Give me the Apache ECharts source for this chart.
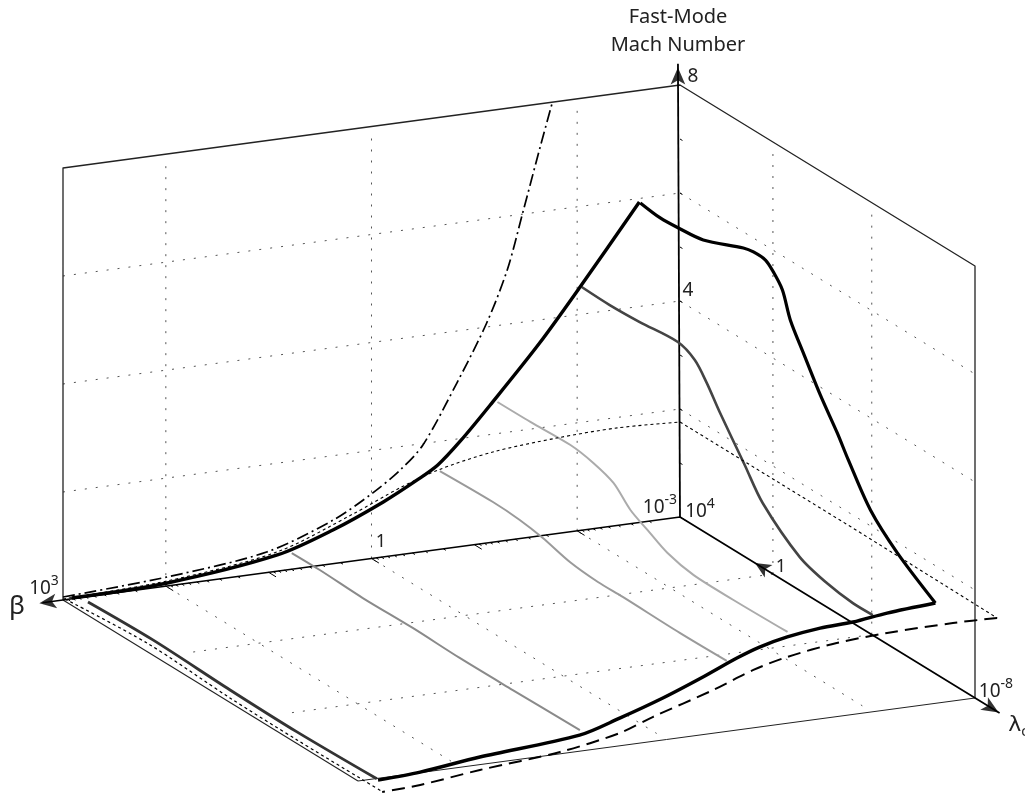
<!DOCTYPE html>
<html><head><meta charset="utf-8">
<style>html,body{margin:0;padding:0;background:#fff}#c{width:1025px;height:793px}</style>
<script src="https://cdn.jsdelivr.net/npm/echarts@6/dist/echarts.min.js"></script>
</head><body><div id="c"></div>
<script>
// Axis labels and grid decades (log10 beta, log10 lambda_c, Mach)
const betaDecades = [2, 0, -2];
const lambdaGrid = [0.22, -3.8];
const machGrid = [2, 4, 6];
const machTicks = [1, 2, 3, 4, 5, 6, 7];
const tickDecades = [-3, -2, -1, 0, 1, 2];

// Ridge at large lambda_c: Mach versus log10 beta
const ridgeLambda = 3.52;
const ridgeBeta = [3.03, 2.10, 1.03, 0.49, 0.00, -0.33, -0.53, -0.75, -1.04, -1.52, -1.92, -2.49];
const ridgeMach = [0.178, 0.219, 0.463, 0.787, 1.181, 1.504, 1.73, 2.119, 2.711, 3.735, 4.688, 6.099];

// Back-wall limit curves at lambda_c = 10^4
const wallLambda = 4;
const upperBeta = [3, 1.99, 1.02, 0.37, -0.01, -0.28, -0.50, -0.83, -1.12, -1.32, -1.47, -1.64, -1.76];
const upperMach = [0.056, 0.167, 0.381, 0.809, 1.209, 1.569, 1.974, 3.037, 4.074, 5.006, 6.02, 7.2, 8.004];
const lowerBeta = [3, 1.99, 0.92, 0.18, -0.28, -0.65, -1.18, -1.80, -2.39, -3];
const lowerMach = [0.02, 0.093, 0.356, 0.87, 1.24, 1.474, 1.670, 1.769, 1.806, 1.759];

// Plateau along beta = 10^-3
const plateauBeta = -3;
const plateauLambda = [4, -3, -8.9];
const plateauMach = [1.76, 1.76, 1.733];

// Small-lambda edges: Mach versus log10 beta
const dashedLambda = -8.9;
const dashedBeta = [-3, -2.57, -1.93, -1.44, -0.96, -0.63, -0.24, 0.35, 0.67, 1.25, 2.03, 2.61, 2.98];
const dashedMach = [1.733, 1.75, 1.73, 1.669, 1.535, 1.378, 1.107, 0.757, 0.543, 0.341, 0.207, 0.078, 0.043];
const edgeLambda = -8.48;
const edgeBeta = [-2.50, -2.03, -1.70, -1.38, -1.06, -0.79, -0.57, -0.24, 0.15, 0.57, 0.96, 1.93, 2.51, 2.92];
const edgeMach = [2.022, 1.956, 1.874, 1.844, 1.761, 1.643, 1.496, 1.23, 0.941, 0.676, 0.461, 0.304, 0.174, 0.131];

// Constant-beta profiles: Mach versus log10 lambda_c
const profile1Beta = -2.49;
const profile1Lambda = [3.48, 2.67, 1.93, 0.92, -0.71, -1.12, -1.61, -1.93, -2.30, -2.62, -3.15, -3.84, -4.53, -4.98, -5.88, -6.98, -8.52];
const profile1Mach = [6.093, 6.041, 6.061, 6.122, 6.428, 6.469, 6.456, 6.326, 6.094, 5.63, 5.167, 4.581, 4.07, 3.696, 3.02, 2.53, 2.037];
const profile2Beta = -1.92;
const profile2Lambda = [3.48, 2.34, 1.12, -0.43, -1.12, -1.61, -2.13, -3.15, -3.88, -5.39, -6.49, -7.55, -8.36];
const profile2Mach = [4.681, 4.665, 4.691, 4.754, 4.613, 4.322, 3.933, 3.237, 2.737, 2.157, 1.983, 1.907, 1.913];
const profile3Beta = -1.11;
const profile3Lambda = [3.52, 2.18, 0.55, -0.38, -1.20, -1.89, -2.58, -3.40, -4.45, -6.08, -8.28];
const profile3Mach = [2.748, 2.754, 2.781, 2.709, 2.567, 2.259, 2.083, 1.883, 1.772, 1.763, 1.785];
const profile4Beta = -0.55;
const profile4Lambda = [3.52, 1.36, 0.27, -0.67, -1.77, -2.91, -3.92, -6.24, -8.15];
const profile4Mach = [1.613, 1.643, 1.615, 1.543, 1.406, 1.354, 1.359, 1.341, 1.356];
const profile5Beta = 0.89;
const profile5Lambda = [3.52, 2.38, 0.63, -1.40, -3.31, -5.47, -8.20];
const profile5Mach = [0.463, 0.467, 0.437, 0.45, 0.428, 0.437, 0.457];
const profile6Beta = 2.91;
const profile6Lambda = [3.36, 0.72, -2.42, -5.14, -8.39];
const profile6Mach = [0.119, 0.154, 0.104, 0.087, 0.126];
const profile7Beta = 3;
const profile7Lambda = [3.92, 0.58, -2.79, -5.52, -8.20, -9.02];
const profile7Mach = [0.04, 0.157, 0.083, 0.067, 0.076, 0.08];

// Oblique projection of the log-log-linear box on the plane of the axes
function project(beta, lambda, mach) {
  const b = (beta + 3) / 6, t = (4 - lambda) / 12;
  return [680 - 617 * b + 295 * t, 517 + 83 * b + 181 * t - 54 * mach];
}
function line(pts, color, width, dash, smooth) {
  return { type: 'line', data: pts.map(p => project(p[0], p[1], p[2])), showSymbol: false, silent: true,
    animation: false, clip: false, z: 3, smooth: smooth || false,
    lineStyle: { color: color, width: width, type: dash || 'solid', cap: 'butt', join: 'round' } };
}
const alongBeta = (bs, l, ms) => bs.map((b, i) => [b, l, ms[i]]);
const alongLambda = (b, ls, ms) => ls.map((l, i) => [b, l, ms[i]]);
function arrow(pos, rot, w, h) {
  return { type: 'scatter', data: [project(pos[0], pos[1], pos[2])], symbol: 'arrow', symbolSize: [w, h],
    symbolRotate: rot, silent: true, animation: false, clip: false, z: 6, itemStyle: { color: '#000' } };
}

const series = [];
const DOT = [2, 9], DOTC = '#555', S = 0.3;
betaDecades.forEach(b => {
  series.push(line([[b, 4, 0], [b, 4, 7.85]], DOTC, 1, DOT));
  series.push(line([[b, 3.9, 0], [b, -7.6, 0]], DOTC, 1, DOT));
});
lambdaGrid.forEach(l => {
  series.push(line([[-3, l, 0], [-3, l, 7.83]], DOTC, 1, DOT));
  series.push(line([[-3, l, 0], [2.67, l, 0]], DOTC, 1, DOT));
});
machGrid.forEach(m => {
  series.push(line([[3, 4, m], [-3, 4, m]], DOTC, 1, DOT));
  series.push(line([[-3, 4, m], [-3, -8, m]], DOTC, 1, DOT));
});

// Box
series.push(line([[3, 4, 0], [3, 4, 8], [-3, 4, 8], [-3, -8, 8], [-3, -8, 0]], '#222', 1.3));
series.push(line([[3, -8, 0], [-3, -8, 0]], '#222', 1));
series.push(line([[3, 4, 0], [3, -8, 0]], '#222', 1.1));
// Axes
series.push(line([[3.2, 4, 0], [-3, 4, 0], [-3, -9, 0]], '#000', 1.7));
series.push(line([[-3, 4, 0], [-2.98, 4, 8.4]], '#000', 1.8));
// Tick marks
tickDecades.forEach(d => {
  for (let k = 1; k < 10; k++) {
    const b = d + Math.log10(k);
    series.push(line([[b, 4, 0], [b, k === 1 ? 3.7 : 3.9, 0]], '#000', 1));
  }
});
machTicks.forEach(m => series.push(line([[-3, 4, m], [-3, 3.9, m]], '#000', 1)));

// Curves
series.push(line(alongLambda(profile7Beta, profile7Lambda, profile7Mach), '#000', 1.2, [3, 3], S));
series.push(line(alongLambda(profile6Beta, profile6Lambda, profile6Mach), '#333', 2.8, null, S));
series.push(line(alongLambda(profile5Beta, profile5Lambda, profile5Mach), '#8a8a8a', 2, null, S));
series.push(line(alongLambda(profile4Beta, profile4Lambda, profile4Mach), '#9a9a9a', 2, null, S));
series.push(line(alongLambda(profile3Beta, profile3Lambda, profile3Mach), '#ababab', 2, null, S));
series.push(line(alongLambda(profile2Beta, profile2Lambda, profile2Mach), '#444', 2.6, null, S));
series.push(line(alongBeta(lowerBeta, wallLambda, lowerMach), '#000', 1.1, [3, 3], S));
series.push(line(alongLambda(plateauBeta, plateauLambda, plateauMach), '#000', 1.1, [3, 3]));
series.push(line(alongBeta(upperBeta, wallLambda, upperMach), '#000', 1.7, [12, 4, 2, 4], S));
series.push(line(alongBeta(dashedBeta, dashedLambda, dashedMach), '#000', 2, [13, 7], S));
series.push(line(alongBeta(ridgeBeta, ridgeLambda, ridgeMach), '#000', 3.4, null, S));
series.push(line(alongBeta(edgeBeta, edgeLambda, edgeMach), '#000', 3.4, null, S));
series.push(line(alongLambda(profile1Beta, profile1Lambda, profile1Mach), '#000', 3.2, null, S));

// Axis arrows
series.push(arrow([-2.98, 4, 8.33], 0, 11, 17));
series.push(arrow([3.23, 4, 0], 97.7, 11, 17));
series.push(arrow([-3, 0.95, 0], 58.5, 11, 16));
series.push(arrow([-3, -8.96, 0], -121.5, 11, 17));

const FF = '"Noto Sans"';
function txt(x, y, text, size, rich) {
  const st = { text: text, x: x, y: y, align: 'center', verticalAlign: 'middle', fill: '#222', font: size + 'px ' + FF };
  if (rich) st.rich = rich;
  return { type: 'text', style: st, z: 10, silent: true };
}
const pow = {
  n: { fontSize: 19, fontFamily: 'Noto Sans', fill: '#222', lineHeight: 24, verticalAlign: 'bottom' },
  s: { fontSize: 14, fontFamily: 'Noto Sans', fill: '#222', lineHeight: 24, verticalAlign: 'top' },
  b: { fontSize: 22, fontFamily: 'DejaVu Sans', fill: '#222', lineHeight: 28 },
  c: { fontSize: 14, fontFamily: 'Noto Sans', fill: '#222', lineHeight: 28, verticalAlign: 'bottom' }
};
const graphics = [
  txt(678, 17, 'Fast-Mode', 20),
  txt(678, 45, 'Mach Number', 20),
  txt(693, 77, '8', 19),
  txt(688, 291, '4', 19),
  txt(381, 542, '1', 18),
  txt(781, 567, '1', 18),
  txt(44, 586, '{n|10}{s|3}', 19, pow),
  txt(660, 505, '{n|10}{s|-3}', 19, pow),
  txt(700, 509, '{n|10}{s|4}', 19, pow),
  txt(996, 689, '{n|10}{s|-8}', 19, pow),
  txt(17, 607, 'β', 26),
  txt(1018, 725, '{b|λ}{c|c}', 22, pow)
];

const chart = echarts.init(document.getElementById('c'), null, { renderer: 'canvas' });
chart.setOption({
  backgroundColor: '#fff',
  animation: false,
  grid: { left: 0, right: 0, top: 0, bottom: 0 },
  xAxis: { type: 'value', min: 0, max: 1025, show: false },
  yAxis: { type: 'value', min: 0, max: 793, inverse: true, show: false },
  series: series,
  graphic: graphics
});
</script></body></html>
